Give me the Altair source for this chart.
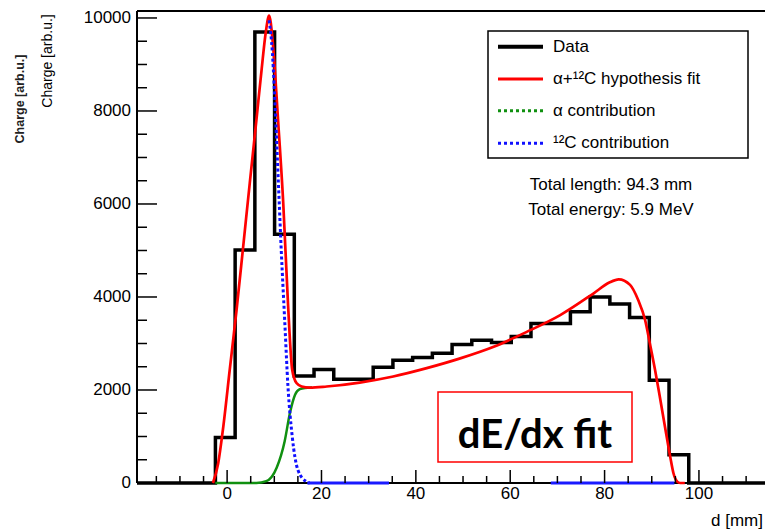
import altair as alt
import pandas as pd

# ---------------- data ----------------
XMIN, XMAX = -19.1, 114.0
YMAX = 10150

bin_start = -2.48
bin_width = 4.18
data_counts = [980, 5010, 9700, 5350, 2300, 2440, 2230, 2230, 2490, 2640, 2700, 2790,
               2980, 3070, 3020, 3150, 3430, 3430, 3680, 4000, 3850, 3560, 2210, 610]

fit_x = [-3.0, -1.9, -0.9, 0.55, 2.0, 3.4, 4.8, 6.2, 7.3, 8.2, 8.9, 9.7, 10.8, 11.9, 12.9,
         13.8, 14.7, 15.8, 17.5, 21.1, 28.1, 35.2, 42.3, 49.4, 56.5, 63.5, 70.6, 77.7,
         81.0, 83.0, 85.4, 87.1, 88.6, 89.6, 90.7, 91.7, 92.8, 93.9, 94.6, 95.4, 96.0, 97.0]
fit_y = [0, 420, 1140, 2430, 3720, 5080, 6450, 7800, 8880, 9700, 10050, 9450, 7800, 6010, 3860,
         2430, 2150, 2075, 2050, 2075, 2160, 2290, 2470, 2680, 2930, 3250, 3610, 4080,
         4310, 4380, 4260, 3940, 3500, 3000, 2430, 1860, 1210, 570, 210, 30, 0, 0]

alpha_x = [-2.5, 6.2, 8.3, 10.5, 12.2, 13.3, 14.4, 15.4, 16.5, 18.0]
alpha_y = [0, 0, 40, 330, 900, 1500, 1900, 2020, 2045, 2052]

c12_x = [8.9, 9.6, 10.3, 10.9, 11.5, 12.2, 12.9, 13.8, 15.0, 16.8, 17.5]
c12_y = [9950, 9240, 7800, 6370, 4940, 3500, 2070, 1000, 280, 30, 0]
c12_zero_start = [17.0, 68.6]
c12_zero_end = [34.3, 94.8]

x_major = [0, 20, 40, 60, 80, 100]
x_minor = [-15, -10, -5, 5, 10, 15, 25, 30, 35, 45, 50, 55, 65, 70, 75, 85, 90, 95, 105, 110]
y_major = [0, 2000, 4000, 6000, 8000, 10000]
y_minor = [500, 1000, 1500, 2500, 3000, 3500, 4500, 5000, 5500, 6500, 7000, 7500,
           8500, 9000, 9500]

legend_labels = ["Data", "α+¹²C hypothesis fit", "α contribution", "¹²C contribution"]
info_lines = ["Total length: 94.3 mm", "Total energy: 5.9 MeV"]

# ---------------- tables ----------------
edges = [bin_start + i * bin_width for i in range(len(data_counts) + 1)]
hx, hy = [XMIN, edges[0]], [0, 0]
for i, c in enumerate(data_counts):
    hx += [edges[i], edges[i + 1]]
    hy += [c, c]
hx += [edges[-1], XMAX]
hy += [0, 0]
hist_df = pd.DataFrame({"x": hx, "y": hy, "o": range(len(hx))})
fit_df = pd.DataFrame({"x": fit_x, "y": fit_y})
alpha_df = pd.DataFrame({"x": alpha_x, "y": alpha_y})
c12_df = pd.DataFrame({"x": c12_x, "y": c12_y})
c0_df = pd.DataFrame({"x": c12_zero_start, "x2": c12_zero_end, "y": [0, 0]})
xmaj_df = pd.DataFrame({"x": x_major, "lab": [str(v) for v in x_major]})
xmin_df = pd.DataFrame({"x": x_minor})
ymaj_df = pd.DataFrame({"y": y_major, "lab": [str(v) for v in y_major]})
ymin_df = pd.DataFrame({"y": y_minor})
one = pd.DataFrame({"a": [0]})

W, H = 628, 472
FONT = "Liberation Sans"
xs = alt.Scale(domain=[XMIN, XMAX], nice=False, zero=False)
ys = alt.Scale(domain=[0, YMAX], nice=False)


def X(field="x"):
    return alt.X(f"{field}:Q", scale=xs, axis=None)


def Y(field="y"):
    return alt.Y(f"{field}:Q", scale=ys, axis=None)


frame_top = alt.Chart(one).mark_rule(color="black", strokeWidth=2).encode(
    x=alt.value(0), x2=alt.value(W), y=alt.value(0))
frame_left = alt.Chart(one).mark_rule(color="black", strokeWidth=2).encode(
    x=alt.value(0), y=alt.value(0), y2=alt.value(H))
frame_bottom = alt.Chart(one).mark_rule(color="black", strokeWidth=2).encode(
    x=alt.value(0), x2=alt.value(W), y=alt.value(H))

hist = alt.Chart(hist_df).mark_line(color="black", strokeWidth=3.5, strokeJoin="miter").encode(
    x=X(), y=Y(), order="o:Q")
green = alt.Chart(alpha_df).mark_line(color="#109010", strokeWidth=2.5, interpolate="monotone").encode(
    x=X(), y=Y())
red = alt.Chart(fit_df).mark_line(color="#ff0000", strokeWidth=2.7, interpolate="monotone").encode(
    x=X(), y=Y())
blue = alt.Chart(c12_df).mark_line(color="#1010ff", strokeWidth=3, strokeDash=[3, 2.5],
                                   interpolate="monotone").encode(x=X(), y=Y())
blue0 = alt.Chart(c0_df).mark_rule(color="#1a1aff", strokeWidth=3).encode(
    x=X(), x2="x2:Q", y=Y())

tick_style = dict(color="black", strokeWidth=1.5)
xt1 = alt.Chart(xmaj_df).mark_rule(**tick_style).encode(
    x=X(), y=alt.value(H), y2=alt.value(H - 13))
xt2 = alt.Chart(xmin_df).mark_rule(**tick_style).encode(
    x=X(), y=alt.value(H), y2=alt.value(H - 7))
yt1 = alt.Chart(ymaj_df).mark_rule(**tick_style).encode(
    y=Y(), x=alt.value(0), x2=alt.value(20))
yt2 = alt.Chart(ymin_df).mark_rule(**tick_style).encode(
    y=Y(), x=alt.value(0), x2=alt.value(10))
xlab = alt.Chart(xmaj_df).mark_text(font=FONT, fontSize=17, align="center", baseline="middle",
                                    color="black").encode(
    x=X(), y=alt.value(H + 11), text="lab:N")
ylab = alt.Chart(ymaj_df).mark_text(font=FONT, fontSize=17, align="right", baseline="middle",
                                    color="black").encode(
    y=Y(), x=alt.value(-6), text="lab:N")

# legend
leg_box = alt.Chart(one).mark_rect(fill="white", stroke="black", strokeWidth=1.5).encode(
    x=alt.value(351), x2=alt.value(611), y=alt.value(20), y2=alt.value(147))
leg_rows = [35.7, 68, 99.7, 132.3]
leg_styles = [dict(color="black", strokeWidth=4),
              dict(color="#ff0000", strokeWidth=3),
              dict(color="#109010", strokeWidth=3, strokeDash=[3, 3]),
              dict(color="#1010ff", strokeWidth=3, strokeDash=[3, 3])]
leg_layers = []
for yy, st, lab in zip(leg_rows, leg_styles, legend_labels):
    leg_layers.append(alt.Chart(one).mark_rule(**st).encode(
        x=alt.value(361), x2=alt.value(406), y=alt.value(yy)))
    leg_layers.append(alt.Chart(one).mark_text(
        text=lab, font=FONT, fontSize=17, align="left", baseline="middle", color="black").encode(
        x=alt.value(416), y=alt.value(yy)))

info_layers = [alt.Chart(one).mark_text(text=t, font=FONT, fontSize=17, align="center",
                                        baseline="middle", color="black").encode(
    x=alt.value(474), y=alt.value(yy)) for t, yy in zip(info_lines, [174, 199])]

dedx_box = alt.Chart(one).mark_rect(fillOpacity=0, stroke="#ff0000", strokeWidth=1.5).encode(
    x=alt.value(301), x2=alt.value(495), y=alt.value(381), y2=alt.value(451))
dedx_text = alt.Chart(one).mark_text(text="dE/dx fit", font="Lato", fontWeight="bold", fontSize=40,
                                     align="center", baseline="middle", color="black").encode(
    x=alt.value(398), y=alt.value(425))

xtitle = alt.Chart(one).mark_text(text="d [mm]", font=FONT, fontSize=17, align="right",
                                  baseline="middle", color="black").encode(
    x=alt.value(626), y=alt.value(510))
ytitle = alt.Chart(one).mark_text(text="Charge [arb.u.]", font=FONT, fontSize=14, angle=270,
                                  align="center", baseline="middle", color="black").encode(
    x=alt.value(-89), y=alt.value(50))
ytitle2 = alt.Chart(one).mark_text(text="Charge [arb.u.]", font=FONT, fontSize=12.5,
                                   fontWeight="bold", angle=270, align="center", baseline="middle",
                                   color="#222222").encode(
    x=alt.value(-117), y=alt.value(88))

chart = alt.layer(
    frame_top, frame_left, frame_bottom, hist, green, red, blue, blue0, xt1, xt2, yt1, yt2,
    xlab, ylab, leg_box, *leg_layers, *info_layers, dedx_box, dedx_text, xtitle, ytitle, ytitle2,
).properties(
    width=W, height=H, autosize="none",
    padding={"left": 137, "top": 11, "right": 0, "bottom": 49},
).configure_view(stroke=None)

chart.save("out.html", embed_options={"renderer": "svg", "actions": False})
